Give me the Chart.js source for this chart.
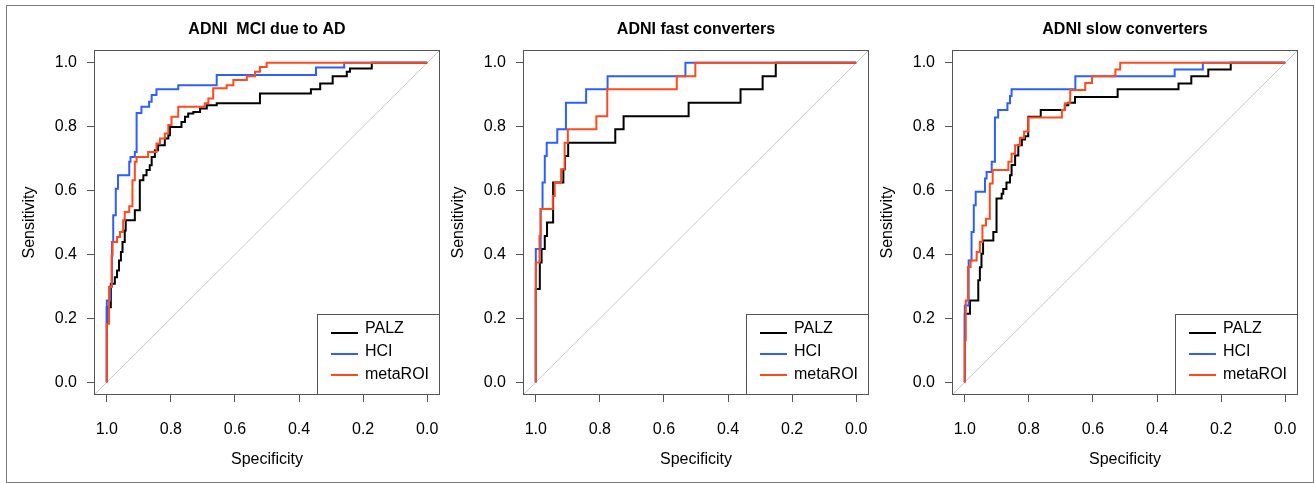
<!DOCTYPE html>
<html>
<head>
<meta charset="utf-8">
<script src="https://cdn.jsdelivr.net/npm/chart.js@4.4.1/dist/chart.umd.min.js"></script>
<style>
  body { margin: 0; background: #fff; width: 1315px; height: 483px; overflow: hidden; position: relative; }
  #frame { position: absolute; left: 6px; top: 5px; width: 1306px; height: 476px; border: 1px solid #7a7a7a; }
  canvas { position: absolute; top: 0; }
</style>
</head>
<body>
<div id="frame"></div>
<canvas id="c1" width="450" height="483" style="left:0px"></canvas>
<canvas id="c2" width="450" height="483" style="left:429px"></canvas>
<canvas id="c3" width="450" height="483" style="left:858px"></canvas>
<script>
// titres des panneaux et graduations
const titles = ["ADNI  MCI due to AD", "ADNI fast converters", "ADNI slow converters"]
const seriesNames = ["PALZ", "HCI", "metaROI"]
const tickVals = [0, 0.2, 0.4, 0.6, 0.8, 1.0]
const diagSpec = [1.04, -0.04]
const diagSens = [-0.04, 1.04]

// panel 1 : MCI due to AD
const p1PalzSpec = [1, 1, 0.9875, 0.975, 0.968, 0.962, 0.956, 0.951, 0.944, 0.941, 0.9125, 0.897, 0.886, 0.876, 0.866, 0.860, 0.850, 0.840, 0.819, 0.808, 0.803, 0.767, 0.756, 0.746, 0.730, 0.709, 0.688, 0.657, 0.522, 0.363, 0.334, 0.295, 0.251, 0.241, 0.173, 0]
const p1PalzSens = [0, 0.235, 0.308, 0.329, 0.350, 0.381, 0.408, 0.439, 0.475, 0.507, 0.538, 0.632, 0.648, 0.664, 0.679, 0.705, 0.726, 0.742, 0.763, 0.773, 0.799, 0.815, 0.831, 0.841, 0.846, 0.857, 0.867, 0.873, 0.904, 0.917, 0.935, 0.958, 0.972, 0.982, 1.0, 1.0]
const p1HciSpec = [1, 1, 0.99, 0.984, 0.980, 0.972, 0.965, 0.930, 0.926, 0.9125, 0.907, 0.892, 0.868, 0.860, 0.845, 0.777, 0.657, 0.347, 0.259, 0]
const p1HciSens = [0, 0.256, 0.30, 0.439, 0.523, 0.606, 0.648, 0.690, 0.705, 0.721, 0.843, 0.862, 0.878, 0.899, 0.917, 0.930, 0.962, 0.985, 1.0, 1.0]
const p1MetaSpec = [1, 1, 0.993, 0.985, 0.982, 0.968, 0.959, 0.949, 0.944, 0.930, 0.920, 0.9125, 0.907, 0.871, 0.845, 0.834, 0.819, 0.808, 0.798, 0.777, 0.694, 0.683, 0.668, 0.626, 0.605, 0.563, 0.5375, 0.522, 0.501, 0]
const p1MetaSens = [0, 0.183, 0.298, 0.397, 0.439, 0.455, 0.470, 0.507, 0.533, 0.551, 0.632, 0.690, 0.705, 0.721, 0.747, 0.763, 0.779, 0.805, 0.831, 0.862, 0.873, 0.888, 0.920, 0.930, 0.946, 0.958, 0.972, 0.987, 1.0, 1.0]

// panel 2 : fast converters
const p2PalzSpec = [1, 1, 0.9875, 0.982, 0.972, 0.965, 0.946, 0.914, 0.909, 0.899, 0.752, 0.726, 0.523, 0.361, 0.292, 0.251, 0]
const p2PalzSens = [0, 0.292, 0.375, 0.417, 0.458, 0.5, 0.625, 0.667, 0.708, 0.75, 0.792, 0.833, 0.875, 0.917, 0.958, 1, 1]
const p2HciSpec = [1, 1, 0.985, 0.979, 0.972, 0.966, 0.933, 0.906, 0.843, 0.776, 0.533, 0]
const p2HciSens = [0, 0.417, 0.542, 0.625, 0.708, 0.75, 0.792, 0.875, 0.917, 0.958, 1, 1]
const p2MetaSpec = [1, 1, 0.9885, 0.985, 0.947, 0.941, 0.921, 0.910, 0.900, 0.811, 0.777, 0.560, 0.502, 0]
const p2MetaSens = [0, 0.375, 0.458, 0.542, 0.583, 0.625, 0.667, 0.75, 0.792, 0.833, 0.917, 0.958, 1, 1]

// panel 3 : slow converters
const p3PalzSpec = [1, 1, 0.984, 0.958, 0.953, 0.948, 0.943, 0.911, 0.901, 0.885, 0.880, 0.870, 0.859, 0.854, 0.843, 0.833, 0.822, 0.812, 0.802, 0.763, 0.688, 0.677, 0.656, 0.523, 0.333, 0.293, 0.240, 0.170, 0]
const p3PalzSens = [0, 0.214, 0.256, 0.319, 0.36, 0.402, 0.444, 0.470, 0.575, 0.59, 0.605, 0.625, 0.648, 0.68, 0.71, 0.742, 0.76, 0.77, 0.831, 0.852, 0.867, 0.875, 0.893, 0.917, 0.935, 0.958, 0.979, 1, 1]
const p3HciSpec = [1, 1, 0.988, 0.979, 0.972, 0.966, 0.937, 0.932, 0.916, 0.906, 0.896, 0.867, 0.859, 0.854, 0.655, 0.345, 0.257, 0]
const p3HciSens = [0, 0.24, 0.381, 0.470, 0.554, 0.596, 0.638, 0.658, 0.690, 0.829, 0.852, 0.873, 0.896, 0.917, 0.958, 0.979, 1, 1]
const p3MetaSpec = [1, 1, 0.997, 0.990, 0.982, 0.963, 0.953, 0.945, 0.934, 0.922, 0.913, 0.864, 0.854, 0.843, 0.828, 0.815, 0.802, 0.697, 0.687, 0.671, 0.624, 0.603, 0.530, 0.515, 0]
const p3MetaSens = [0, 0.131, 0.256, 0.361, 0.381, 0.408, 0.439, 0.491, 0.512, 0.622, 0.664, 0.690, 0.715, 0.742, 0.765, 0.785, 0.829, 0.852, 0.873, 0.915, 0.937, 0.958, 0.979, 1, 1]

const colors = ["#000000", "#2d5fff", "#ff4a1c"]
const fontFam = "'Liberation Sans', Arial, Helvetica, sans-serif"
Chart.defaults.font.family = fontFam
Chart.defaults.color = "#000"

function pts(xs, ys) {
    return xs.map((x, i) => ({ x: x, y: ys[i] }))
}

// cadre autour de la zone de tracé
const boxPlugin = {
    id: "box",
    afterDatasetsDraw(chart) {
        const a = chart.chartArea
        const ctx = chart.ctx
        ctx.save()
        ctx.strokeStyle = "#555"
        ctx.lineWidth = 1
        ctx.strokeRect(a.left + 0.5, a.top + 0.5, a.right - a.left - 1, a.bottom - a.top - 1)
        ctx.restore()
    }
}

// légende en bas à droite, dans le cadre
const legendPlugin = {
    id: "rlegend",
    afterDraw(chart) {
        const a = chart.chartArea
        const ctx = chart.ctx
        const w = 123, h = 81
        const left = a.right - w, top = a.bottom - h
        ctx.save()
        ctx.fillStyle = "#fff"
        ctx.fillRect(left, top, w, h)
        ctx.strokeStyle = "#555"
        ctx.lineWidth = 1
        ctx.strokeRect(left + 0.5, top + 0.5, w - 1, h - 1)
        const lineY = [19, 40, 61]
        const textY = [15, 38, 61]
        let k = 0
        chart.data.datasets.forEach(ds => {
            if (!ds.inLegend) return
            ctx.strokeStyle = ds.borderColor
            ctx.lineWidth = 2
            ctx.beginPath()
            ctx.moveTo(left + 14, top + lineY[k])
            ctx.lineTo(left + 41, top + lineY[k])
            ctx.stroke()
            ctx.fillStyle = "#000"
            ctx.font = "16px " + fontFam
            ctx.textBaseline = "middle"
            ctx.textAlign = "left"
            ctx.fillText(ds.label, left + 48, top + textY[k])
            k++
        })
        ctx.restore()
    }
}

function makeChart(id, title, series) {
    const datasets = series.map((s, i) => ({
        label: seriesNames[i],
        data: pts(s[0], s[1]),
        borderColor: colors[i],
        borderWidth: 2,
        pointRadius: 0,
        stepped: "before",
        fill: false,
        inLegend: true,
        order: 2 - i
    }))
    datasets.push({
        label: "diag",
        data: pts(diagSpec, diagSens),
        borderColor: "#c8c8c8",
        borderWidth: 1,
        pointRadius: 0,
        fill: false,
        inLegend: false,
        order: 5
    })
    const axisFont = { size: 16 }
    return new Chart(document.getElementById(id), {
        type: "line",
        data: { datasets: datasets },
        plugins: [boxPlugin, legendPlugin],
        options: {
            responsive: false,
            animation: false,
            devicePixelRatio: 1,
            layout: { padding: { left: 0, right: 10, top: 0, bottom: 0 } },
            plugins: {
                legend: { display: false },
                tooltip: { enabled: false },
                title: {
                    display: true,
                    text: title,
                    fullSize: false,
                    color: "#000",
                    font: { size: 16, weight: "bold" },
                    padding: { top: 20, bottom: 10.8 }
                }
            },
            scales: {
                x: {
                    type: "linear",
                    reverse: true,
                    min: -0.04,
                    max: 1.04,
                    afterBuildTicks: s => { s.ticks = tickVals.map(v => ({ value: v })) },
                    afterFit: s => { s.height = 88 },
                    grid: { drawOnChartArea: false, tickLength: 7, color: "#555" },
                    border: { display: false },
                    ticks: { padding: 18, font: axisFont, color: "#000", maxRotation: 0, callback: v => v.toFixed(1) },
                    title: { display: true, text: "Specificity", font: axisFont, color: "#000", padding: { top: 0, bottom: 14 } }
                },
                y: {
                    type: "linear",
                    min: -0.04,
                    max: 1.04,
                    afterBuildTicks: s => { s.ticks = tickVals.map(v => ({ value: v })) },
                    afterFit: s => { s.width = 94 },
                    grid: { drawOnChartArea: false, tickLength: 7, color: "#555" },
                    border: { display: false },
                    ticks: { padding: 10, font: axisFont, color: "#000", callback: v => v.toFixed(1) },
                    title: { display: true, text: "Sensitivity", font: axisFont, color: "#000", padding: { top: 20, bottom: 0 } }
                }
            }
        }
    })
}

makeChart("c1", titles[0], [[p1PalzSpec, p1PalzSens], [p1HciSpec, p1HciSens], [p1MetaSpec, p1MetaSens]])
makeChart("c2", titles[1], [[p2PalzSpec, p2PalzSens], [p2HciSpec, p2HciSens], [p2MetaSpec, p2MetaSens]])
makeChart("c3", titles[2], [[p3PalzSpec, p3PalzSens], [p3HciSpec, p3HciSens], [p3MetaSpec, p3MetaSens]])
</script>
</body>
</html>
